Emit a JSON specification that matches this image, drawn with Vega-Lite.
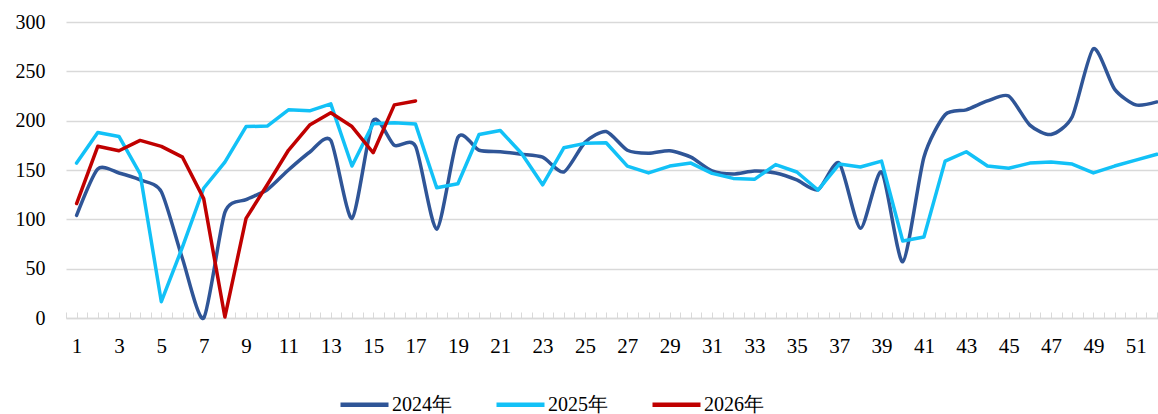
{
  "$schema": "https://vega.github.io/schema/vega-lite/v6.json",
  "autosize": {"type": "none"},
  "padding": {"left": 66, "top": 22, "right": 0, "bottom": 96},
  "width": 1092,
  "height": 296,
  "background": "white",
  "config": {
    "view": {"stroke": null},
    "font": "Liberation Serif",
    "axis": {"labelFont": "Liberation Serif", "labelColor": "#000000", "labelFontSize": 20}
  },
  "data": {"values": [
    {"week":1,"year":"2024年","value":104},{"week":2,"year":"2024年","value":151},{"week":3,"year":"2024年","value":147},{"week":4,"year":"2024年","value":140},{"week":5,"year":"2024年","value":128},{"week":6,"year":"2024年","value":60},{"week":7,"year":"2024年","value":0},{"week":8,"year":"2024年","value":107},{"week":9,"year":"2024年","value":120},{"week":10,"year":"2024年","value":130},{"week":11,"year":"2024年","value":150},{"week":12,"year":"2024年","value":168},{"week":13,"year":"2024年","value":180},{"week":14,"year":"2024年","value":101},{"week":15,"year":"2024年","value":200},{"week":16,"year":"2024年","value":175},{"week":17,"year":"2024年","value":174},{"week":18,"year":"2024年","value":90},{"week":19,"year":"2024年","value":183},{"week":20,"year":"2024年","value":170},{"week":21,"year":"2024年","value":168.5},{"week":22,"year":"2024年","value":166},{"week":23,"year":"2024年","value":163},{"week":24,"year":"2024年","value":148},{"week":25,"year":"2024年","value":178},{"week":26,"year":"2024年","value":189},{"week":27,"year":"2024年","value":170},{"week":28,"year":"2024年","value":167},{"week":29,"year":"2024年","value":169.5},{"week":30,"year":"2024年","value":163},{"week":31,"year":"2024年","value":149},{"week":32,"year":"2024年","value":146},{"week":33,"year":"2024年","value":149},{"week":34,"year":"2024年","value":147},{"week":35,"year":"2024年","value":140},{"week":36,"year":"2024年","value":130},{"week":37,"year":"2024年","value":157},{"week":38,"year":"2024年","value":91},{"week":39,"year":"2024年","value":148},{"week":40,"year":"2024年","value":57},{"week":41,"year":"2024年","value":163},{"week":42,"year":"2024年","value":206},{"week":43,"year":"2024年","value":211},{"week":44,"year":"2024年","value":220},{"week":45,"year":"2024年","value":225},{"week":46,"year":"2024年","value":195.5},{"week":47,"year":"2024年","value":186},{"week":48,"year":"2024年","value":204},{"week":49,"year":"2024年","value":273},{"week":50,"year":"2024年","value":232},{"week":51,"year":"2024年","value":216},{"week":52,"year":"2024年","value":219},
    {"week":1,"year":"2025年","value":157},{"week":2,"year":"2025年","value":188},{"week":3,"year":"2025年","value":184},{"week":4,"year":"2025年","value":146},{"week":5,"year":"2025年","value":16.5},{"week":6,"year":"2025年","value":72},{"week":7,"year":"2025年","value":131.5},{"week":8,"year":"2025年","value":158},{"week":9,"year":"2025年","value":194},{"week":10,"year":"2025年","value":194.5},{"week":11,"year":"2025年","value":211},{"week":12,"year":"2025年","value":210},{"week":13,"year":"2025年","value":217},{"week":14,"year":"2025年","value":154},{"week":15,"year":"2025年","value":197},{"week":16,"year":"2025年","value":198},{"week":17,"year":"2025年","value":196.5},{"week":18,"year":"2025年","value":132},{"week":19,"year":"2025年","value":136},{"week":20,"year":"2025年","value":186},{"week":21,"year":"2025年","value":190},{"week":22,"year":"2025年","value":167},{"week":23,"year":"2025年","value":135},{"week":24,"year":"2025年","value":172.5},{"week":25,"year":"2025年","value":177},{"week":26,"year":"2025年","value":177.6},{"week":27,"year":"2025年","value":154},{"week":28,"year":"2025年","value":147},{"week":29,"year":"2025年","value":154},{"week":30,"year":"2025年","value":157},{"week":31,"year":"2025年","value":146.6},{"week":32,"year":"2025年","value":141.5},{"week":33,"year":"2025年","value":140.5},{"week":34,"year":"2025年","value":155.5},{"week":35,"year":"2025年","value":148},{"week":36,"year":"2025年","value":129.7},{"week":37,"year":"2025年","value":156},{"week":38,"year":"2025年","value":153},{"week":39,"year":"2025年","value":159},{"week":40,"year":"2025年","value":78},{"week":41,"year":"2025年","value":82},{"week":42,"year":"2025年","value":159},{"week":43,"year":"2025年","value":168.5},{"week":44,"year":"2025年","value":154},{"week":45,"year":"2025年","value":151.7},{"week":46,"year":"2025年","value":157},{"week":47,"year":"2025年","value":158},{"week":48,"year":"2025年","value":156},{"week":49,"year":"2025年","value":147},{"week":50,"year":"2025年","value":154},{"week":51,"year":"2025年","value":160},{"week":52,"year":"2025年","value":166},
    {"week":1,"year":"2026年","value":116},{"week":2,"year":"2026年","value":174},{"week":3,"year":"2026年","value":169.5},{"week":4,"year":"2026年","value":180},{"week":5,"year":"2026年","value":174},{"week":6,"year":"2026年","value":163},{"week":7,"year":"2026年","value":121},{"week":8,"year":"2026年","value":1},{"week":9,"year":"2026年","value":101},{"week":10,"year":"2026年","value":135},{"week":11,"year":"2026年","value":170},{"week":12,"year":"2026年","value":195.5},{"week":13,"year":"2026年","value":208},{"week":14,"year":"2026年","value":194},{"week":15,"year":"2026年","value":167.5},{"week":16,"year":"2026年","value":216},{"week":17,"year":"2026年","value":220}
  ]},
  "encoding": {
    "x": {
      "field": "week", "type": "quantitative",
      "scale": {"domain": [0.5, 52.05], "nice": false, "zero": false},
      "axis": {
        "title": null,
        "values": [0.5,1,1.5,2,2.5,3,3.5,4,4.5,5,5.5,6,6.5,7,7.5,8,8.5,9,9.5,10,10.5,11,11.5,12,12.5,13,13.5,14,14.5,15,15.5,16,16.5,17,17.5,18,18.5,19,19.5,20,20.5,21,21.5,22,22.5,23,23.5,24,24.5,25,25.5,26,26.5,27,27.5,28,28.5,29,29.5,30,30.5,31,31.5,32,32.5,33,33.5,34,34.5,35,35.5,36,36.5,37,37.5,38,38.5,39,39.5,40,40.5,41,41.5,42,42.5,43,43.5,44,44.5,45,45.5,46,46.5,47,47.5,48,48.5,49,49.5,50,50.5,51,51.5,52],
        "labelExpr": "datum.value % 2 == 1 ? '' + datum.value : ''",
        "labelOverlap": false,
        "labelFlush": false,
        "labelFontSize": 21,
        "grid": false,
        "domainColor": "#d9d9d9",
        "domainWidth": 1.5,
        "tickColor": "#d9d9d9",
        "tickWidth": 1,
        "tickSize": -6,
        "labelPadding": 23
      }
    },
    "y": {
      "field": "value", "type": "quantitative",
      "scale": {"domain": [0, 300], "nice": false},
      "axis": {
        "title": null,
        "values": [0, 50, 100, 150, 200, 250, 300],
        "domain": false,
        "ticks": false,
        "gridColor": "#d9d9d9",
        "gridWidth": 1.5,
        "labelPadding": 21
      }
    },
    "color": {
      "field": "year", "type": "nominal",
      "scale": {"domain": ["2024年", "2025年", "2026年"], "range": ["#2F5597", "#12C1F7", "#C00000"]},
      "legend": {
        "title": null,
        "orient": "none",
        "direction": "horizontal",
        "legendX": 272,
        "legendY": 356,
        "symbolType": "stroke",
        "symbolSize": 2304,
        "symbolStrokeWidth": 4.5,
        "labelFont": "Liberation Serif",
        "labelFontSize": 20,
        "labelColor": "#000000",
        "labelOffset": 1,
        "columnPadding": 35
      }
    }
  },
  "layer": [
    {
      "transform": [{"filter": "datum.year == '2024年'"}],
      "mark": {"type": "line", "interpolate": "cardinal", "tension": 0.3, "strokeWidth": 3.5, "strokeCap": "round", "strokeJoin": "round"}
    },
    {
      "transform": [{"filter": "datum.year != '2024年'"}],
      "mark": {"type": "line", "interpolate": "linear", "strokeWidth": 3.5, "strokeCap": "round", "strokeJoin": "round"}
    }
  ]
}
